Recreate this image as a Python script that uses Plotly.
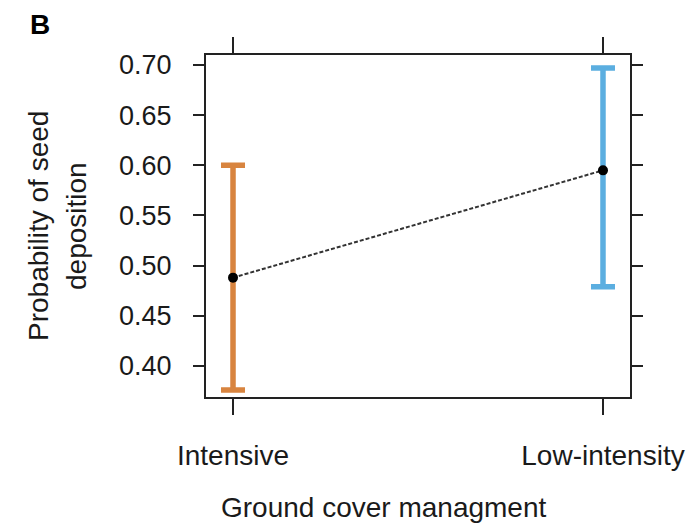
import plotly.graph_objects as go

categories = ["Intensive", "Low-intensity"]
means = [0.488, 0.595]
lower = [0.376, 0.479]
upper = [0.600, 0.697]
colors = ["#D8843F", "#5BAEE0"]
y_ticks = [0.40, 0.45, 0.50, 0.55, 0.60, 0.65, 0.70]
y_ticktext = ["0.40", "0.45", "0.50", "0.55", "0.60", "0.65", "0.70"]

FONT = "Liberation Sans, Arial, Helvetica, sans-serif"
TXT = "#1a1a1a"
xpos = list(range(len(categories)))

# page body has an 8px margin; figure drawn from (8, 8)
OFF = 8
W, H = 697 - OFF, 524 - OFF
L, R, T, B = 206 - OFF, 697 - 630, 55 - OFF, H - (397 - OFF)

fig = go.Figure()
for i, cat in enumerate(categories):
    fig.add_trace(go.Scatter(
        x=[xpos[i]], y=[means[i]], mode="markers",
        marker=dict(size=1, color="rgba(0,0,0,0)"),
        error_y=dict(type="data", symmetric=False,
                     array=[upper[i] - means[i]],
                     arrayminus=[means[i] - lower[i]],
                     color=colors[i], thickness=5.5, width=12),
        showlegend=False, hoverinfo="skip"))

fig.add_trace(go.Scatter(
    x=xpos, y=means, mode="lines+markers",
    line=dict(color="#333333", width=2, dash="4px,2px"),
    marker=dict(size=10, color="black"),
    showlegend=False))

pw = W - L - R
ph = H - T - B

def to_paper(px, py):
    fx = px - OFF
    fy = py - OFF
    return (fx - L) / pw, (H - fy - B) / ph

annotations = []
bx, by = to_paper(40, OFF)
annotations.append(dict(text="<b>B</b>", x=bx, y=by, xref="paper", yref="paper",
                        xanchor="center", yanchor="top", borderpad=0,
                        showarrow=False, font=dict(size=28, color="black")))
for text, px, py, ang in [("Probability of seed", 38, 226, -90),
                          ("deposition", 76, 226, -90),
                          ("Ground cover managment", 384, 507, 0)]:
    ax, ay = to_paper(px, py)
    annotations.append(dict(text=text, x=ax, y=ay, xref="paper", yref="paper",
                            xanchor="center", yanchor="middle", textangle=ang,
                            showarrow=False, font=dict(size=28, color=TXT)))

fig.update_layout(
    width=W, height=H,
    margin=dict(l=L, r=R, t=T, b=B),
    paper_bgcolor="white", plot_bgcolor="white",
    font=dict(family=FONT, size=28, color=TXT),
    xaxis=dict(range=[-0.073, 1.073], tickvals=xpos, ticktext=categories,
               showgrid=False, zeroline=False, showline=True, linecolor="#222",
               linewidth=2, mirror="ticks", ticks="outside", ticklen=16,
               tickwidth=2, tickcolor="#222", ticklabelstandoff=16,
               tickfont=dict(size=28, color=TXT)),
    yaxis=dict(range=[0.369, 0.710], tickvals=y_ticks, ticktext=y_ticktext,
               showgrid=False, zeroline=False, showline=True, linecolor="#222",
               linewidth=2, mirror="ticks", ticks="outside", ticklen=11,
               tickwidth=2, tickcolor="#222", ticklabelstandoff=16,
               tickfont=dict(size=27, color=TXT)),
    annotations=annotations,
)

fig.write_html("out.html")
